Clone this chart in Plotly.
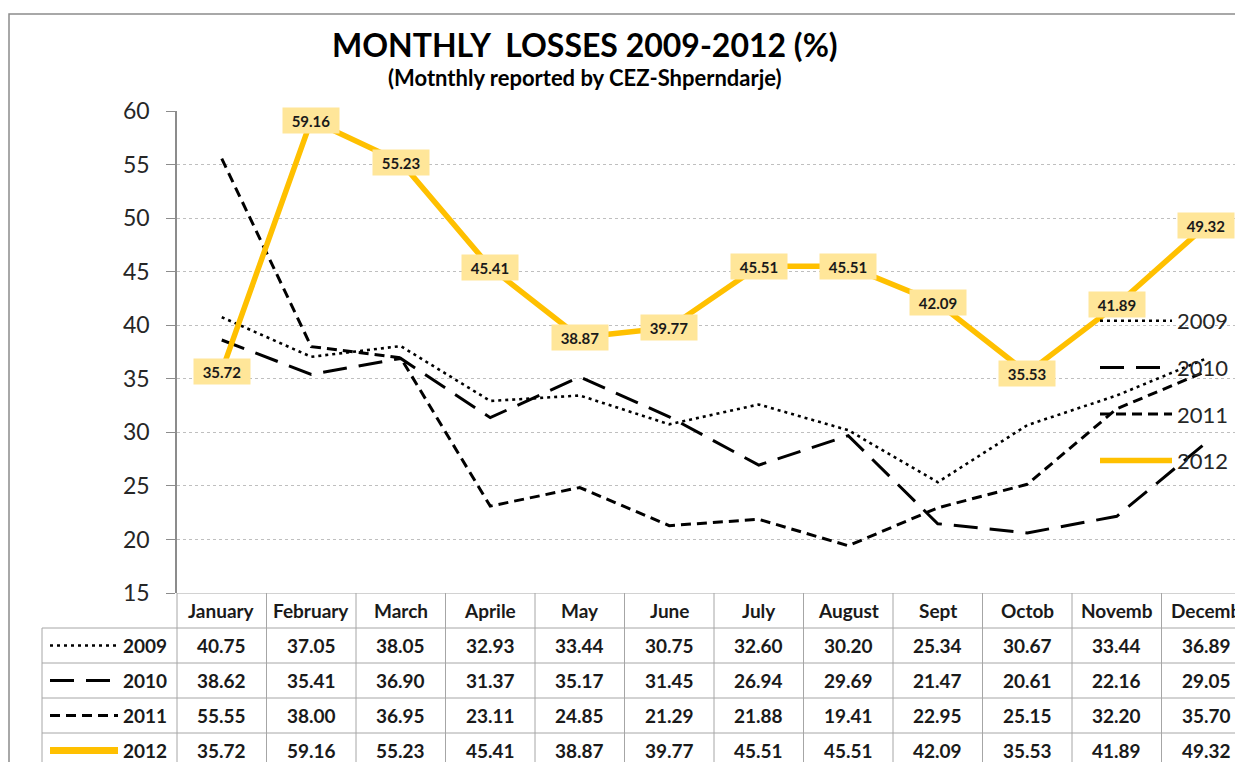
import plotly.graph_objects as go

# ---------------- data ----------------
months = ["January", "February", "March", "Aprile", "May", "June",
          "July", "August", "Sept", "Octob", "Novemb", "Decemb"]
years = ["2009", "2010", "2011", "2012"]
v2009 = [40.75, 37.05, 38.05, 32.93, 33.44, 30.75, 32.60, 30.20, 25.34, 30.67, 33.44, 36.89]
v2010 = [38.62, 35.41, 36.90, 31.37, 35.17, 31.45, 26.94, 29.69, 21.47, 20.61, 22.16, 29.05]
v2011 = [55.55, 38.00, 36.95, 23.11, 24.85, 21.29, 21.88, 19.41, 22.95, 25.15, 32.20, 35.70]
v2012 = [35.72, 59.16, 55.23, 45.41, 38.87, 39.77, 45.51, 45.51, 42.09, 35.53, 41.89, 49.32]
y_ticks = [15, 20, 25, 30, 35, 40, 45, 50, 55, 60]

series = {"2009": v2009, "2010": v2010, "2011": v2011, "2012": v2012}

# ---------------- layout constants (screen pixels) ----------------
W, H = 1243, 762
OFF = 8                      # page body margin
PLOT_L = 177                 # y axis line
PLOT_R = W + OFF             # right edge of plot (just off screen)
PLOT_T, PLOT_B = 111, 593
TABLE_L = 42
TABLE_DOM_L = 38
ROW_H = 35
FONT = "Lato"
GRID = "#A6A6A6"

styles = {
    "2009": dict(color="black", width=2.6, dash="3px,4px"),
    "2010": dict(color="black", width=3, dash="24px,12px"),
    "2011": dict(color="black", width=3, dash="10px,6px"),
    "2012": dict(color="#FFC000", width=5.5, dash="solid"),
}


def px(s):
    return (s - OFF) / W


def py(s):
    return 1 - (s - OFF) / H


n = len(months)
unit = (PLOT_R - PLOT_L) / n
x2_left = -0.5 - (PLOT_L - TABLE_DOM_L) / unit


def tx(s):
    return -0.5 - (PLOT_L - s) / unit


tab_rows = (H + OFF - PLOT_B) / ROW_H

fig = go.Figure()

for yr in years:
    fig.add_trace(go.Scatter(
        x=months, y=series[yr], mode="lines", name=yr,
        line=styles[yr], legendgroup=yr, xaxis="x", yaxis="y",
        hoverinfo="skip",
    ))

annotations = []
shapes = []

# data labels of 2012
for m, v in zip(months, v2012):
    annotations.append(dict(
        x=m, y=v, xref="x", yref="y", text=f"<b>{v:.2f}</b>", showarrow=False,
        bgcolor="#FFE699", borderpad=3, width=50, height=19,
        font=dict(family=FONT, size=15, color="#1a1a1a"),
    ))

# data table grid
grid = dict(color=GRID, width=1)
shapes.append(dict(type="line", xref="x2", yref="y2", x0=-0.5, x1=n - 0.5, y0=0, y1=0, line=grid))
for r in range(1, len(years) + 2):
    shapes.append(dict(type="line", xref="x2", yref="y2", x0=tx(TABLE_L), x1=n - 0.5,
                       y0=r, y1=r, line=grid))
for k in range(n + 1):
    shapes.append(dict(type="line", xref="x2", yref="y2", x0=k - 0.5, x1=k - 0.5,
                       y0=0, y1=len(years) + 1, line=grid))
shapes.append(dict(type="line", xref="x2", yref="y2", x0=tx(TABLE_L), x1=tx(TABLE_L),
                   y0=1, y1=len(years) + 1, line=grid))

cell_font = dict(family=FONT, size=19, color="#1a1a1a")
for i, m in enumerate(months):
    annotations.append(dict(x=i, y=0.5, xref="x2", yref="y2", text=f"<b>{m}</b>",
                            showarrow=False, font=cell_font))
for r, yr in enumerate(years):
    yc = r + 1.5
    for i, v in enumerate(series[yr]):
        annotations.append(dict(x=i, y=yc, xref="x2", yref="y2", text=f"<b>{v:.2f}</b>",
                                showarrow=False, font=cell_font))
    annotations.append(dict(x=tx(169), y=yc, xref="x2", yref="y2",
                            text=f"<b>{yr}</b>", showarrow=False, xanchor="right",
                            font=cell_font))
    st = styles[yr]
    shapes.append(dict(type="line", xref="x2", yref="y2",
                       x0=tx(50), x1=tx(118), y0=yc, y1=yc,
                       line=dict(color=st["color"],
                                 width=7 if yr == "2012" else st["width"],
                                 dash=st["dash"])))

# outer chart border
shapes.append(dict(type="rect", xref="paper", yref="paper", x0=px(9), x1=1.05,
                   y0=-0.05, y1=py(14), line=dict(color="#8C8C8C", width=1.5),
                   fillcolor="rgba(0,0,0,0)", layer="below"))

# titles
annotations.append(dict(x=px(585), y=py(45), xref="paper", yref="paper",
                        text="<b>MONTHLY  LOSSES 2009-2012 (%)</b>", showarrow=False,
                        xanchor="center", yanchor="middle",
                        font=dict(family=FONT, size=32, color="black")))
annotations.append(dict(x=px(585), y=py(78), xref="paper", yref="paper",
                        text="<b>(Motnthly reported by CEZ-Shperndarje)</b>", showarrow=False,
                        xanchor="center", yanchor="middle",
                        font=dict(family=FONT, size=22, color="black")))

fig.update_layout(
    width=W, height=H,
    margin=dict(l=0, r=0, t=0, b=0, autoexpand=False),
    paper_bgcolor="white", plot_bgcolor="white",
    showlegend=True,
    legend=dict(x=px(1095), y=py(300), xanchor="left", yanchor="top",
                bgcolor="rgba(0,0,0,0)", traceorder="grouped", tracegroupgap=15,
                itemwidth=72,
                font=dict(family=FONT, size=22, color="#262626")),
    xaxis=dict(domain=[px(PLOT_L), 1], type="category", range=[-0.5, n - 0.5],
               showticklabels=False, showgrid=False, zeroline=False, showline=False,
               ticks="", automargin=False),
    yaxis=dict(domain=[py(PLOT_B), py(PLOT_T)], range=[15, 60], tickvals=y_ticks,
               ticks="outside", ticklen=9, tickcolor="#8C8C8C", showline=True,
               linecolor="#8C8C8C", linewidth=1.5, showgrid=True, gridcolor="#BFBFBF",
               griddash="dot", gridwidth=1, zeroline=False, automargin=False,
               ticklabelstandoff=12,
               tickfont=dict(family=FONT, size=23, color="#262626")),
    xaxis2=dict(domain=[px(TABLE_DOM_L), 1], range=[x2_left, n - 0.5], anchor="y2",
                showticklabels=False, showgrid=False, zeroline=False, showline=False,
                automargin=False),
    yaxis2=dict(domain=[0, py(PLOT_B)], range=[tab_rows, 0], anchor="x2",
                showticklabels=False, showgrid=False, zeroline=False, showline=False,
                automargin=False),
    annotations=annotations,
    shapes=shapes,
)

fig.write_html("out.html")
